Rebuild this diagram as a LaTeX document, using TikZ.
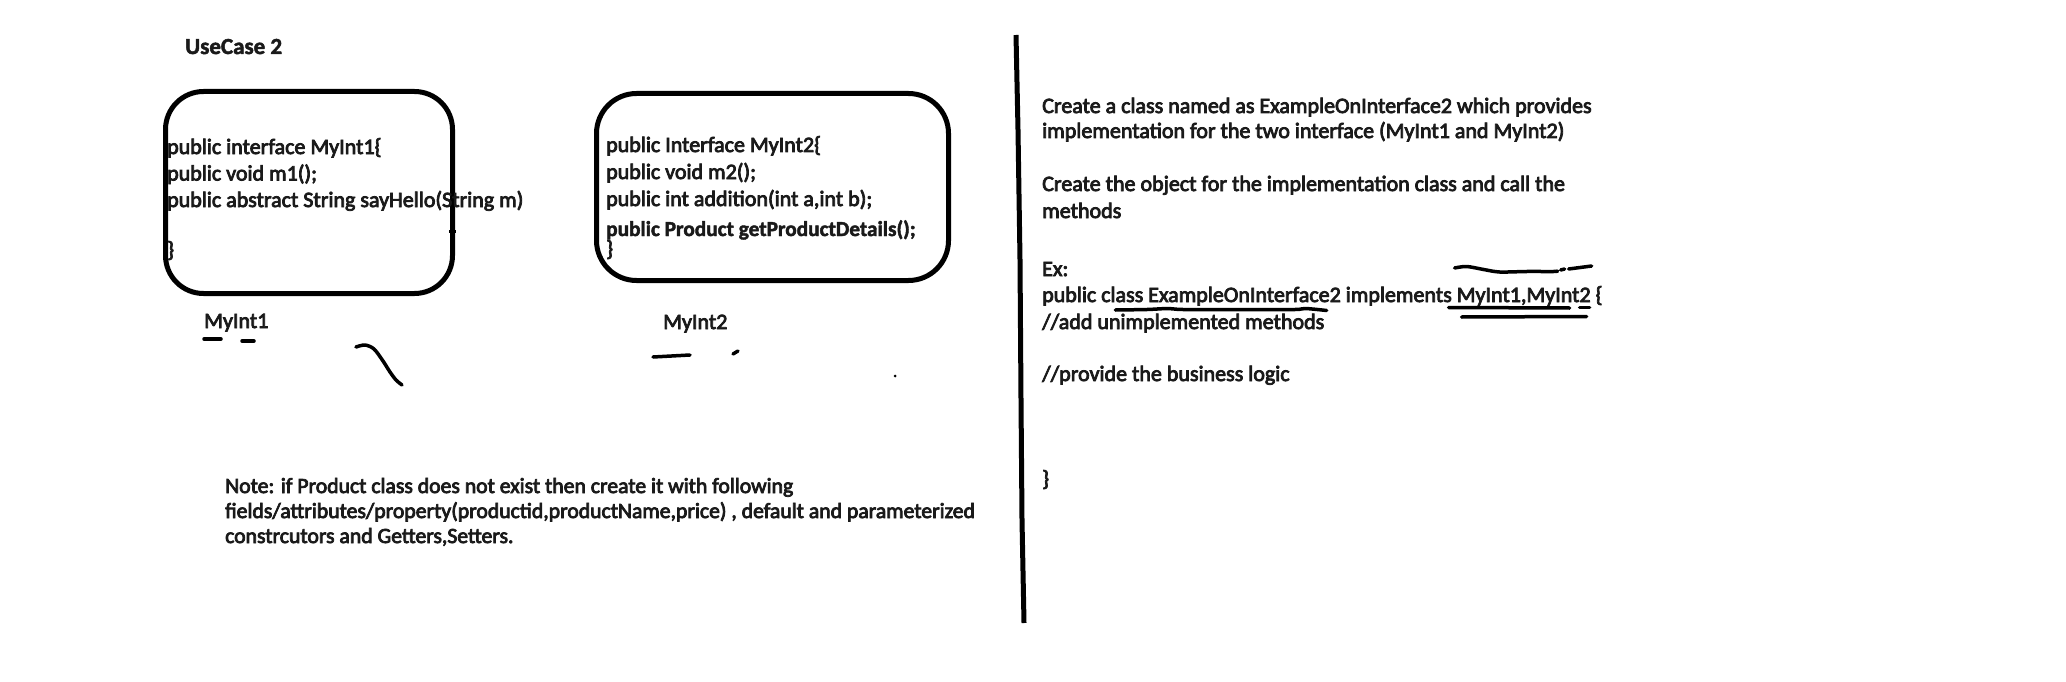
\documentclass[tikz,border=0pt]{standalone}
\usepackage{fontspec}
\setmainfont{Carlito}
\newfontfamily\rgf{Carlito}[FakeBold=3.5]
\newfontfamily\bdf{Carlito Bold}[FakeBold=2]
\usetikzlibrary{calc}
\newlength\wCl
\newlength\wEx
\newlength\wMa
\newcommand\tf{\fontsize{22}{26.5}\selectfont}
\definecolor{ink}{HTML}{1A1A1A}
\AtBeginDocument{%
  \settowidth{\wCl}{\rgf\tf public cl}%
  \settowidth{\wEx}{\rgf\tf public class ExampleOnInterface2}%
  \settowidth{\wMa}{\rgf\tf public class ExampleOnInterface2 implements\ }%
}
\begin{document}
\begin{tikzpicture}[x=1pt,y=-1pt,
  txt/.style={anchor=base west, inner sep=0pt, font=\rgf\tf, text=ink},
  btxt/.style={anchor=base west, inner sep=0pt, font=\bdf\tf, text=ink},
  boxline/.style={line width=5pt, draw=black},
  pen/.style={line width=3.5pt, line cap=round, line join=round},
]
\useasboundingbox (0,0) rectangle (2066,682);
\fill[white] (0,0) rectangle (2066,682);

% title
\node[btxt, font=\bdf\fontsize{23}{27}\selectfont] (title) at (185,54) {UseCase 2};

% box 1
\node[boxline, rounded corners=38pt, minimum width=287pt, minimum height=202pt,
      anchor=north west, inner sep=0pt] (box1) at (163,89) {};
\node[txt] (b1l1) at (167,154) {public interface MyInt1\{};
\node[txt] (b1l2) at (167,180.5) {public void m1();};
\node[txt] (b1l3) at (167,207) {public abstract String sayHello(String m)};
\node[txt] (b1l4) at (167,257) {\}};
\draw[line width=3pt] (449,231) -- (456,231);

% box 2
\node[boxline, rounded corners=40pt, minimum width=352pt, minimum height=187pt,
      anchor=north west, inner sep=0pt] (box2) at (594,91) {};
\node[txt] (b2l1) at (606,152) {public Interface MyInt2\{};
\node[txt] (b2l2) at (606,179) {public void m2();};
\node[txt] (b2l3) at (606,206) {public int addition(int a,int b);};
\node[btxt, font=\bdf\fontsize{21.3}{26}\selectfont] (b2l4) at (606,236) {public Product getProductDetails();};
\node[txt] (b2l5) at (606,256) {\}};

% labels
\node[txt] (lab1) at (204,328) {MyInt1};
\node[txt] (lab2) at (663,329) {MyInt2};

% free strokes
\draw[pen] (204,339) -- (221,339);
\draw[pen] (242,341) -- (254,341);
\draw[pen] plot[smooth] coordinates {(356,347) (365,345) (374,349) (383,361) (390,372) (396,380) (402,385)};
\draw[pen] (653,357) -- (690,355);
\draw[pen] (733,354) -- (738,351);
\fill (895,376) circle (1.5);

% vertical divider
\draw[line width=5pt, line join=round] (1016,35) -- (1018,130) -- (1020,260) -- (1021,400) -- (1022,520) -- (1024,623);

% right text
\node[txt] (r1) at (1042,113) {Create a class named as ExampleOnInterface2 which provides};
\node[txt] (r2) at (1042,138) {implementation for the two interface (MyInt1 and MyInt2)};
\node[txt] (r3) at (1042,191) {Create the object for the implementation class and call the};
\node[txt] (r4) at (1042,218) {methods};
\node[txt] (r5) at (1042,276) {Ex:};
\node[txt] (impl) at (1042,302) {public class ExampleOnInterface2 implements MyInt1,MyInt2 \{};
\node[txt] (r7) at (1042,329) {//add unimplemented methods};
\node[txt] (r8) at (1042,381) {//provide the business logic};
\node[txt] (r9) at (1042,486) {\}};

% marks on the "implements" line
\pgfmathsetmacro\xCl{\wCl}
\pgfmathsetmacro\xEx{\wEx}
\pgfmathsetmacro\xMa{\wMa}
\pgfmathsetmacro\ul{\xEx-\xCl-14}
\begin{scope}[shift={($(impl.base west)+(\xCl,0)$)}]
  \draw[pen] plot[smooth] coordinates {(0,8) (0.15*\ul,7.5) (0.25*\ul,6.5) (0.32*\ul,7.5) (0.6*\ul,7.5) (0.85*\ul,7.5) (0.9*\ul,6.5) (\ul,8.5)};
\end{scope}
\begin{scope}[shift={($(impl.base west)+(\xMa,0)$)}]
  \draw[pen] plot[smooth] coordinates {(-2,-34) (10,-35.5) (27,-32.5) (43,-30) (70,-30.5) (97,-30.5) (101,-31)};
  \draw[pen] (104,-32) -- (108,-33);
  \draw[pen] (112,-33) -- (135,-36);
  \draw[pen] (-8,5.5) -- (113,6);
  \draw[pen] (123,5.5) -- (133,5.5);
  \draw[pen] (5,15) -- (130,14.5);
\end{scope}

% note
\node[txt, font=\rgf\fontsize{21.7}{26}\selectfont] (n1) at (225,493) {Note: if Product class does not exist then create it with following};
\node[txt, font=\rgf\fontsize{21.7}{26}\selectfont] (n2) at (225,518) {fields/attributes/property(productid,productName,price) , default and parameterized};
\node[txt, font=\rgf\fontsize{21.7}{26}\selectfont] (n3) at (225,543) {constrcutors and Getters,Setters.};
\end{tikzpicture}
\end{document}
